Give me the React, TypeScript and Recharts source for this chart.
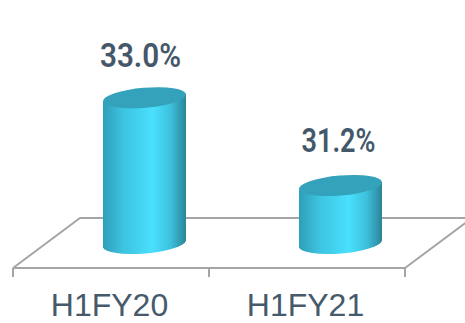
import { BarChart, Bar, XAxis, YAxis, LabelList, usePlotArea } from "recharts";

const periods = ["H1FY20", "H1FY21"];
const shares = [33.0, 31.2];
// label fit above each cylinder
const labelWidths = [81, 74];
const labelLifts = [55, 58];
const labelShifts = [29, 31];

const chartData = periods.map((period, i) => ({ period, share: shares[i] }));

// the floor is drawn in perspective, bars stand halfway back on it
const FLOOR_DX = 67;
const FLOOR_DY = -50;
const BAR_DX = 33;
const BAR_DY = -24;
const TILT = -4.8;
const RX = 41.7;
const RY = 10;

const Floor = () => {
  const plot = usePlotArea();
  if (!plot) return null;
  const left = plot.x;
  const right = plot.x + plot.width;
  const front = plot.y + plot.height;
  const back = front + FLOOR_DY;
  const step = plot.width / periods.length;
  const ticks = [0, 1, 2].map((i) => left + i * step);
  return (
    <g stroke="#a3a6a9" strokeWidth={2} fill="none">
      <path d={`M${left} ${front}L${left + FLOOR_DX} ${back}L${right + FLOOR_DX} ${back}L${right} ${front}`} />
      {ticks.map((x) => (
        <line key={x} x1={x} x2={x} y1={front} y2={front + 9} />
      ))}
    </g>
  );
};

const Cylinder = (props: any) => {
  const { x, y, width, height } = props;
  const cx = x + width / 2 + BAR_DX;
  const top = y + BAR_DY;
  const bottom = top + height;
  const hw = width / 2;
  const rise = hw * Math.tan((-TILT * Math.PI) / 180);
  const body =
    `M${cx - hw} ${top + rise}L${cx - hw} ${bottom + rise}` +
    `A${RX} ${RY} ${TILT} 0 0 ${cx + hw} ${bottom - rise}` +
    `L${cx + hw} ${top - rise}Z`;
  return (
    <g>
      <path d={body} fill="url(#cylinderSide)" />
      <ellipse cx={cx} cy={top} rx={RX} ry={RY} fill="#35a2bb" transform={`rotate(${TILT} ${cx} ${top})`} />
    </g>
  );
};

const ShareLabel = (props: any) => {
  const { x, y, width, value, index } = props;
  return (
    <text
      x={x + width / 2 + labelShifts[index]}
      y={y - labelLifts[index]}
      textAnchor="middle"
      fontFamily="Roboto"
      fontWeight={600}
      fontSize={34}
      textLength={labelWidths[index]}
      lengthAdjust="spacingAndGlyphs"
      fill="#44586a"
    >
      {`${value.toFixed(1)}%`}
    </text>
  );
};

export default function App() {
  return (
    <div style={{ position: "absolute", left: 0, top: 0 }}>
      <BarChart
        width={465}
        height={323}
        data={chartData}
        margin={{ top: 0, right: 60, bottom: 0, left: 13 }}
        style={{ background: "#fff" }}
      >
        <defs>
          <linearGradient id="cylinderSide" x1="0" y1="0" x2="1" y2="0">
            <stop offset="0" stopColor="#2f9fb8" />
            <stop offset="0.25" stopColor="#3dc4e0" />
            <stop offset="0.6" stopColor="#49e0fe" />
            <stop offset="0.82" stopColor="#3dbfda" />
            <stop offset="1" stopColor="#2b8499" />
          </linearGradient>
        </defs>
        <Floor />
        <XAxis
          dataKey="period"
          height={55}
          tickLine={false}
          axisLine={{ stroke: "#a3a6a9", strokeWidth: 2 }}
          tickMargin={19}
          tick={{ fontFamily: "Liberation Sans", fontSize: 32, fill: "#465a6b", dx: -1.5 }}
          interval={0}
        />
        <YAxis hide domain={[30, 35.5]} />
        <Bar dataKey="share" barSize={83} shape={<Cylinder />} isAnimationActive={false}>
          <LabelList dataKey="share" content={<ShareLabel />} />
        </Bar>
      </BarChart>
    </div>
  );
}
